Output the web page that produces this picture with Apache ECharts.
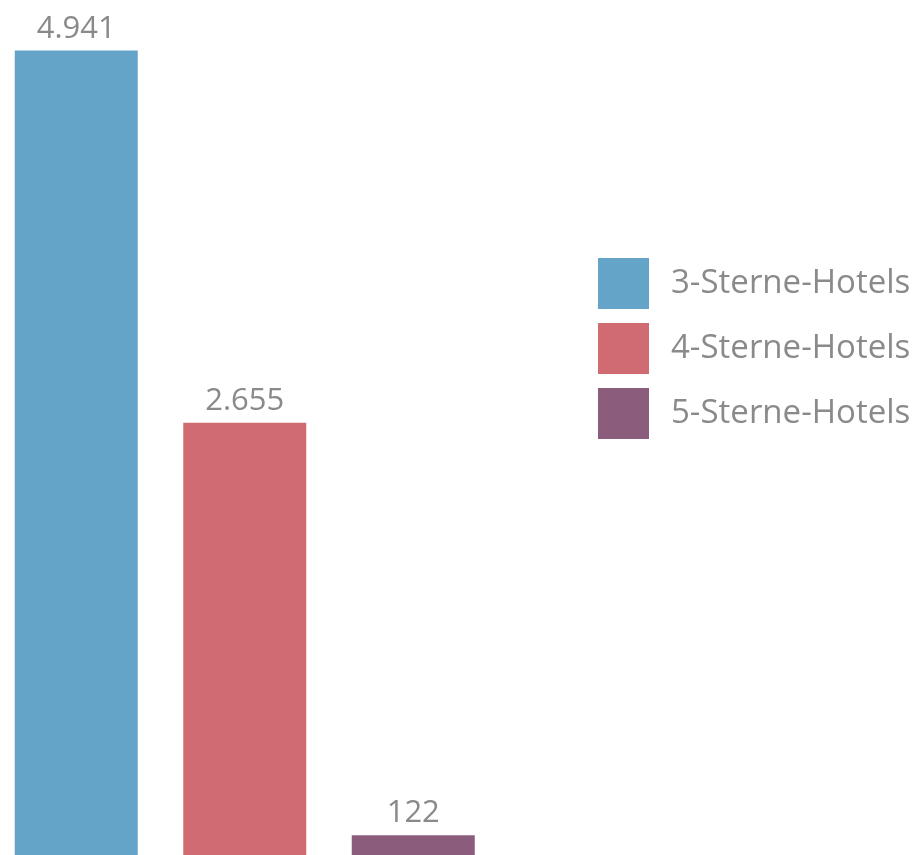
<!DOCTYPE html>
<html>
	<head>
		<meta charset="utf-8" />
		<title></title>
		<script type="text/javascript" src="https://cdn.jsdelivr.net/npm/echarts@6/dist/echarts.min.js"></script>
		<style>
			html, body { margin: 0; padding: 0; background: #fff; }
		</style>
	</head>
	<body>
	    <div id="main" style="width:922px; height: 855px;"></div>
		<script>
			var categories = ['3-Sterne-Hotels', '4-Sterne-Hotels', '5-Sterne-Hotels'];
			var values     = [4941, 2655, 122];
			var colors     = ['#65a4c9', '#d06b72', '#8b5c7b'];

			var chartDom = document.getElementById('main');
			var myChart = echarts.init(chartDom);

			// one series per category so the legend gets three entries
			var series = [];
			for (var i = 0; i < categories.length; i++) {
				var d = categories.map(function (c, j) { return j === i ? values[j] : '-'; });
				series.push({
					name: categories[i],
					type: 'bar',
					data: d,
					barWidth: 123,
					barGap: '-100%',
					itemStyle: { color: colors[i] },
					label: {
						show: true,
						position: 'top',
						distance: 6,
						fontFamily: 'Open Sans',
						fontSize: 31,
						color: '#8a8a8a',
						formatter: function (p) {
							return String(p.value).replace(/\B(?=(\d{3})+(?!\d))/g, '.');
						}
					}
				});
			}

			var data_opt = {
				animation: false,
				legend: {
					orient: 'vertical',
					left: 598,
					top: 258,
					itemWidth: 51,
					itemHeight: 51,
					itemGap: 14,
					icon: 'rect',
					padding: 0,
					textStyle: {
						fontFamily: 'Open Sans',
						fontSize: 33,
						color: '#8a8a8a',
						padding: [0, 0, 0, 17]
					},
					data: categories
				},
				grid: { left: -8, top: 41, width: 505.5, bottom: 0, outerBoundsMode: 'none' },
				xAxis: {
					type: 'category',
					data: categories,
					show: false
				},
				yAxis: {
					type: 'value',
					min: 0,
					max: 5000,
					show: false
				},
				series: series
			};
			myChart.setOption(data_opt);
		</script>
	</body>
</html>
